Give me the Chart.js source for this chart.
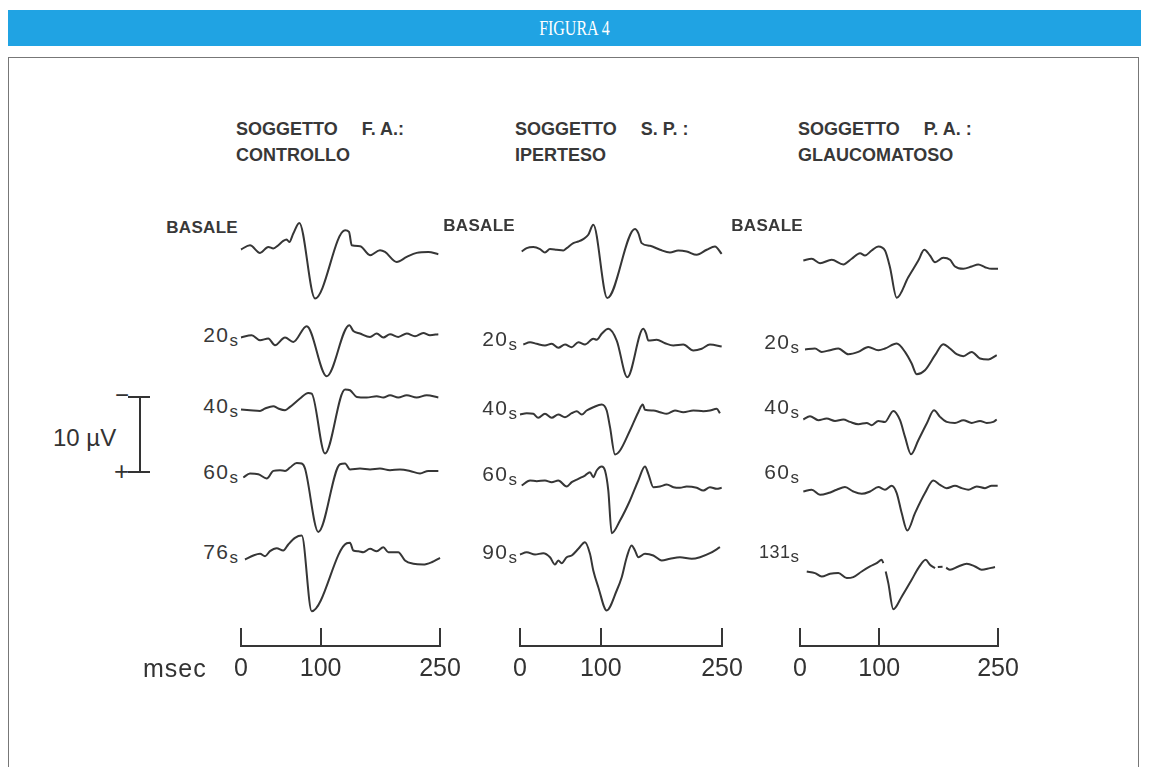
<!DOCTYPE html>
<html><head><meta charset="utf-8">
<script src="https://cdn.jsdelivr.net/npm/chart.js@4.4.1/dist/chart.umd.min.js"></script>
<style>
body{margin:0;width:1149px;height:767px;background:#fff;position:relative;overflow:hidden;font-family:"Liberation Sans",Arial,sans-serif;color:#333}
#hdr{position:absolute;left:8px;top:10px;width:1133px;height:36px;background:#20a3e3;color:#fff;font-family:"Liberation Serif",serif;font-size:21px;text-align:center;line-height:37px}
#hdr span{display:inline-block;transform:scaleX(0.76)}
#frame{position:absolute;left:8px;top:57px;width:1131px;height:730px;border:1px solid #777;box-sizing:border-box}
.ttl{position:absolute;font-weight:bold;font-size:18px;white-space:pre;color:#383838;line-height:20px}
.bas{position:absolute;font-weight:bold;font-size:17px;letter-spacing:0.3px;color:#383838;line-height:18px;text-align:right;width:100px}
.rl{position:absolute;font-size:21px;letter-spacing:1.5px;color:#383838;line-height:22px;text-align:right;width:70px;white-space:nowrap}
.rl .s{font-size:17px;letter-spacing:0;position:relative;top:4px}
.txt{position:absolute;color:#333;white-space:nowrap}
.bar{position:absolute;background:#333}
canvas{position:absolute}
</style></head>
<body>
<div id="hdr"><span>FIGURA 4</span></div>
<div id="frame"></div>
<script>
// ================= DATA (time in msec, amplitude in µV, positive = downward as in figure) =================
const TIME_TICKS = [0, 100, 250];
const TIME_UNIT = "msec";
const CAL_LABEL = "10 µV";
const CAL_UV = 10;

const TITLES_1 = ["SOGGETTO", "F. A.:", "CONTROLLO"];
const TITLES_2 = ["SOGGETTO", "S. P. :", "IPERTESO"];
const TITLES_3 = ["SOGGETTO", "P. A. :", "GLAUCOMATOSO"];

const ROWS_1 = ["BASALE", "20", "40", "60", "76"];
const ROWS_2 = ["BASALE", "20", "40", "60", "90"];
const ROWS_3 = ["BASALE", "20", "40", "60", "131"];

// Soggetto F.A. (controllo)
const FA_BASALE = [[0,0],[11.3,-0.57],[23.9,0.45],[34.3,-0.35],[40.6,-0.13],[46.9,-0.57],[53.1,-1.15],[57.4,-1.33],[60.7,-1.0],[65.7,-2.13],[73.2,-3.55],[93.0,6.53],[130.7,-2.57],[135.7,-2.35],[139.1,-0.57],[149.5,-0.44],[162.1,0.76],[174.6,0.09],[180.9,0.32],[195.6,1.65],[208.2,0.99],[220.7,0.45],[235.3,0.32],[247.9,0.63]];
const FA_20 = [[0,0],[13.4,-0.31],[23.9,0.36],[34.3,0.13],[42.7,1.03],[55.3,0],[65.7,0.59],[82.5,-1.51],[107.7,5.16],[136.1,-1.64],[141.1,-0.88],[149.5,-0.53],[162.1,-0.08],[170.5,-0.53],[178.8,0],[187.2,-0.44],[197.6,-0.08],[208.2,-0.53],[218.6,-0.17],[229.0,-0.61],[237.4,-0.31],[247.9,-0.44]];
const FA_40 = [[0,0],[11.3,0.09],[23.9,0.19],[30.2,-0.13],[40.6,-0.44],[46.9,-0.13],[55.3,0.09],[61.6,-0.35],[74.1,-1.47],[84.5,-2.21],[88.8,-2.13],[105.5,5.87],[130.7,-2.67],[137.0,-2.57],[145.4,-1.68],[157.9,-1.6],[170.5,-1.77],[178.8,-1.6],[187.2,-1.91],[197.6,-1.6],[208.2,-1.91],[220.7,-1.6],[233.3,-1.91],[247.9,-1.6]];
const FA_60 = [[2.9,0],[11.3,-0.53],[21.7,-0.44],[32.3,0.13],[40.6,-0.88],[49.0,-0.97],[55.3,-0.88],[61.6,-1.33],[70.0,-1.95],[76.3,-1.87],[80.4,-1.2],[97.1,7.25],[124.4,-1.77],[130.7,-1.87],[137.0,-1.07],[149.5,-1.2],[162.1,-1.07],[174.6,-1.2],[187.2,-0.97],[199.7,-1.07],[212.3,-0.88],[224.9,-0.53],[235.3,-0.88],[247.9,-0.88]];
const FA_76 = [[5.0,0],[15.5,-0.53],[23.9,-0.76],[30.2,-0.44],[36.4,-1.11],[44.8,-1.51],[53.1,-1.2],[59.4,-2.0],[67.8,-2.89],[76.3,-3.2],[88.8,6.89],[132.8,-2.17],[136.9,-2.23],[141.1,-1.2],[147.4,-1.11],[153.6,-0.97],[162.1,-1.42],[170.5,-1.11],[178.8,-1.64],[185.1,-0.97],[197.6,-0.97],[206.0,0.13],[216.5,0.57],[229.0,0.67],[239.6,0.36],[250,-0.23]];

// Soggetto S.P. (iperteso)
const SP_BASALE = [[2.1,0],[8.3,-0.45],[16.5,-0.59],[24.8,-0.32],[30.9,0.13],[37.1,-0.32],[45.4,-0.23],[53.6,-0.13],[57.8,-0.45],[66.0,-1.12],[72.2,-1.33],[78.3,-1.65],[84.5,-2.23],[90.7,-3.56],[108.0,6.21],[142.3,-2.99],[146.4,-2.45],[150.6,-1.12],[160.9,-0.76],[173.3,-0.23],[185.6,0.13],[195.9,-0.13],[206.3,0],[218.7,0.44],[231.1,-0.23],[241.3,-0.67],[249.6,0.31]];
const SP_20 = [[4.1,0],[12.4,-0.31],[20.7,-0.09],[30.9,0.13],[39.2,-0.09],[47.4,0.44],[55.7,0],[64.0,0.36],[72.2,-0.31],[80.4,0],[90.7,-0.76],[94.9,-0.63],[101.1,-1.43],[109.3,-2.09],[119.7,-0.53],[132.8,4.36],[152.6,-2.09],[155.9,-1.51],[158.8,-0.53],[169.2,-0.63],[179.5,-0.17],[189.7,0.13],[202.1,0],[214.5,0.8],[224.9,0.57],[235.1,0],[249.6,0.27]];
const SP_40 = [[0,0],[8.3,-0.17],[16.5,-0.09],[22.6,0.44],[30.9,-0.09],[39.2,0.44],[47.4,0],[55.7,0.36],[64.0,-0.17],[70.2,-0.44],[76.4,0],[82.5,-0.53],[90.7,-0.97],[101.1,-1.33],[107.3,-0.53],[111.4,1.69],[117.6,5.33],[123.8,4.8],[136.1,2.13],[146.4,-0.31],[151.9,-1.33],[154.7,-0.63],[165.0,-0.53],[173.3,-0.31],[181.6,-0.09],[191.8,-0.53],[202.1,-0.31],[214.5,-0.53],[226.9,-0.44],[235.1,-0.53],[243.4,-0.76],[247.5,-0.17]];
const SP_60 = [[2.1,0],[12.4,-0.67],[20.7,-0.57],[30.9,-0.67],[39.2,-0.44],[47.4,-0.67],[57.8,0.13],[64.0,-0.44],[72.2,-0.89],[80.4,-1.33],[86.6,-1.77],[90.7,-1.11],[94.9,-2.0],[101.1,-2.53],[105.2,-2.0],[109.3,0.67],[113.5,6.36],[123.8,4.67],[136.1,2.0],[146.4,-0.67],[154.7,-2.53],[158.8,-1.56],[165.0,0.23],[173.3,0.13],[181.6,-0.13],[189.9,0.23],[198.0,0.31],[206.3,0.13],[218.7,0.31],[226.9,0.67],[235.1,0.23],[243.4,0.44],[249.6,0.31]];
const SP_90 = [[0,0],[8.3,-0.31],[18.6,0],[28.8,-0.17],[37.1,0.36],[43.3,1.33],[47.4,0.8],[51.6,1.16],[57.8,0.36],[64.0,0.13],[72.2,-0.76],[80.4,-1.64],[86.6,-0.09],[90.7,2.13],[96.9,4.36],[107.3,7.47],[119.7,4.8],[125.9,3.03],[132.1,0.36],[138.2,-1.2],[142.3,-0.53],[146.4,0.36],[154.7,-0.09],[165.0,0.13],[175.3,0.8],[185.6,0.57],[198.0,0.36],[212.5,0.57],[222.8,0.36],[235.1,-0.17],[247.5,-0.97]];

// Soggetto P.A. (glaucomatoso)
const PA_BASALE = [[4.2,0],[14.8,-0.23],[25.3,0.36],[40.0,-0.09],[54.7,0.53],[65.3,-0.23],[75.8,-0.97],[82.1,-0.67],[90.5,-1.33],[98.9,-1.87],[107.3,-1.33],[113.6,0.89],[122.1,4.97],[136.7,2.23],[149.4,0],[156.9,-1.43],[164.1,-0.67],[170.5,0.23],[180.9,-0.36],[189.4,-0.09],[195.7,0.8],[206.2,1.11],[216.8,0.8],[225.1,0.53],[233.6,0.89],[242.0,1.11],[250,1.11]];
const PA_20 = [[6.3,0],[18.9,-0.13],[27.4,0.32],[37.9,0.09],[48.4,-0.13],[61.0,0.63],[73.6,0.32],[86.2,-0.35],[98.9,0.09],[107.3,-0.13],[122.1,-0.8],[132.6,0.32],[141.0,1.87],[147.3,3.29],[157.8,2.76],[170.5,0.76],[180.9,-0.71],[189.4,-0.13],[197.8,0.63],[206.2,0.89],[216.8,0.32],[227.3,1.2],[237.8,1.33],[248.4,0.76]];
const PA_40 = [[4.2,0],[12.6,-0.44],[23.1,0.09],[33.7,-0.13],[44.2,0.19],[54.7,0],[63.1,0.32],[73.6,0.63],[84.2,0.45],[90.5,0.76],[98.9,0.19],[107.3,0.32],[117.8,-1.15],[126.3,0.09],[132.6,2.32],[140.2,4.63],[149.4,2.76],[160.0,0.53],[169.2,-1.24],[176.8,-0.35],[185.2,0.32],[195.7,0.45],[206.2,0.09],[216.8,0.45],[227.3,0.19],[235.7,0.45],[244.1,0.32],[248.4,0]];
const PA_60 = [[4.2,0],[14.8,-0.23],[25.3,0.44],[35.7,0.21],[46.3,-0.23],[56.8,-0.59],[67.3,0],[77.9,0.31],[88.4,0],[98.9,-0.59],[107.3,-0.23],[115.8,-0.76],[122.1,0.21],[128.4,2.88],[135.5,5.2],[145.2,2.88],[157.8,0.21],[168.3,-1.47],[176.8,-0.89],[185.2,-0.45],[195.7,-0.76],[204.2,-0.45],[212.5,-0.23],[223.1,-0.67],[233.6,-0.45],[242.0,-0.76],[249.6,-0.76]];
const PA_131 = [[8.5,0],[18.9,0.21],[27.4,0.67],[37.9,0.31],[48.4,0.21],[59.0,0.88],[67.3,0.75],[77.9,0],[88.4,-0.67],[96.8,-1.12],[103.2,-1.56],[105.2,-1.12],[106.8,null],[108.2,0],[111.5,1.55],[117.8,5.03],[128.4,3.36],[141.0,1.11],[149.4,-0.45],[158.7,-1.56],[164.1,-0.89],[170.5,-0.45],[172.5,null],[174.0,-0.59],[180.0,-0.64],[182.0,null],[184.5,-0.5],[189.4,-0.23],[199.9,-0.67],[210.5,-1.03],[221.0,-0.67],[229.4,-0.23],[239.9,-0.45],[246.2,-0.59]];

// ================= LAYOUT (pixels) =================
const PX_PER_UV = 7.5;
const Y_MIN = -5, Y_MAX = 9;
const PADX = 8, PADY = 6;
const INK = '#363636';
const COLS = [
  {x0:241, x1:440, titleX:236, titles:TITLES_1, rows:ROWS_1, traces:[FA_BASALE,FA_20,FA_40,FA_60,FA_76],
   base:[249.3,337.3,409.3,477.3,559], labRight:238, labY:[228,338,409,475,555], basRight:238},
  {x0:520, x1:722, titleX:515, titles:TITLES_2, rows:ROWS_2, traces:[SP_BASALE,SP_20,SP_40,SP_60,SP_90],
   base:[251.7,344,414,485,554], labRight:517, labY:[226,342,411,477,555], basRight:515},
  {x0:800, x1:998, titleX:798, titles:TITLES_3, rows:ROWS_3, traces:[PA_BASALE,PA_20,PA_40,PA_60,PA_131],
   base:[260,349.3,419.3,491.7,571.7], labRight:799, labY:[226,345,410,475,555], basRight:803},
];
const AXIS_TOP = 628, AXIS_BOTTOM = 646;

function el(cls, html, css){const d=document.createElement('div'); d.className=cls; d.innerHTML=html; Object.assign(d.style, css); document.body.appendChild(d); return d;}

COLS.forEach(col => {
  // titles
  el('ttl', col.titles[0] + '<span style="margin-left:24px">' + col.titles[1] + '</span>', {left:col.titleX+'px', top:'119px'});
  el('ttl', col.titles[2], {left:col.titleX+'px', top:'145px'});
  // row labels
  col.rows.forEach((r,i) => {
    if (i === 0) {
      el('bas', r, {left:(col.basRight-100)+'px', top:(col.labY[i]-9)+'px'});
    } else {
      const d = el('rl', r + '<span class="s">s</span>', {left:(col.labRight-70)+'px', top:(col.labY[i]-14)+'px'});
      if (r.length > 2) { d.style.fontSize='18px'; d.style.letterSpacing='0.5px'; }
    }
  });
  // traces
  const w = (col.x1 - col.x0) + 2*PADX;
  const h = (Y_MAX - Y_MIN)*PX_PER_UV + 2*PADY;
  col.traces.forEach((tr,i) => {
    const cv = document.createElement('canvas');
    cv.width = w; cv.height = h;
    cv.style.left = (col.x0 - PADX)+'px';
    cv.style.top = (col.base[i] + Y_MIN*PX_PER_UV - PADY)+'px';
    document.body.appendChild(cv);
    new Chart(cv, {
      type:'line',
      data:{datasets:[{data: tr.map(p => ({x:p[0], y:p[1]})), borderColor:INK, borderWidth:2,
        pointRadius:0, cubicInterpolationMode:'monotone', clip:false, spanGaps:false, fill:false}]},
      options:{responsive:false, animation:false, events:[],
        layout:{padding:{left:PADX,right:PADX,top:PADY,bottom:PADY}},
        scales:{x:{type:'linear',min:0,max:250,display:false},
                y:{type:'linear',min:Y_MIN,max:Y_MAX,reverse:true,display:false}},
        plugins:{legend:{display:false},tooltip:{enabled:false}}}
    });
  });
  // time axis (bracket)
  const AP = 30, AX_H = 40, PT = 8;
  const acv = document.createElement('canvas');
  acv.width = (col.x1 - col.x0) + 2*AP;
  acv.height = PT + (AXIS_BOTTOM - AXIS_TOP) + AX_H + 6;
  acv.style.left = (col.x0 - AP)+'px'; acv.style.top = (AXIS_TOP - PT)+'px';
  document.body.appendChild(acv);
  new Chart(acv, {
    type:'line', data:{datasets:[]},
    options:{responsive:false, animation:false, events:[],
      layout:{padding:{left:AP,right:AP,top:PT,bottom:6}},
      scales:{
        x:{type:'linear',min:0,max:250,position:'bottom',
           afterBuildTicks:s=>{s.ticks = TIME_TICKS.map(v=>({value:v}));},
           afterFit:s=>{s.height = AX_H;},
           grid:{display:true,drawOnChartArea:true,drawTicks:false,color:INK,lineWidth:2},
           border:{display:true,color:INK,width:2},
           ticks:{padding:8,color:'#333',font:{family:'Liberation Sans',size:25},callback:v=>String(v),maxRotation:0,autoSkip:false}},
        y:{display:false,min:0,max:1}},
      plugins:{legend:{display:false},tooltip:{enabled:false}}}
  });
});

// unit label
el('txt', TIME_UNIT, {left:'143px', top:'654px', fontSize:'25px', letterSpacing:'1px'});

// calibration bar (10 µV)
const calTop = 397, calLen = CAL_UV*PX_PER_UV;
el('bar','',{left:'139px',top:calTop+'px',width:'2px',height:calLen+'px'});
el('bar','',{left:'128px',top:(calTop-1)+'px',width:'22px',height:'2px'});
el('bar','',{left:'128px',top:(calTop+calLen-1)+'px',width:'22px',height:'2px'});
el('txt','−',{left:'115px',top:(calTop-16)+'px',fontSize:'24px'});
el('txt','+',{left:'114px',top:(calTop+calLen-16)+'px',fontSize:'26px'});
el('txt',CAL_LABEL,{left:'53px',top:'424px',fontSize:'24px'});
</script>
</body></html>
